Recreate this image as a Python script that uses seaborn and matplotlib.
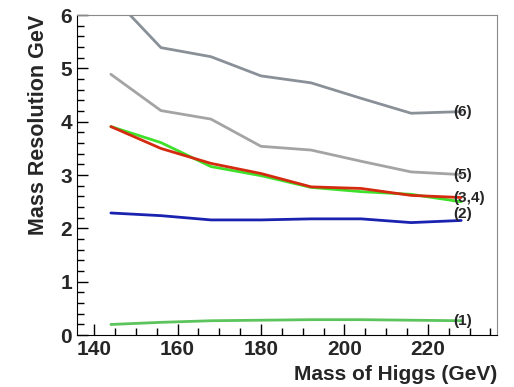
import seaborn as sns
import pandas as pd
import matplotlib.pyplot as plt
from matplotlib.ticker import MultipleLocator

# higgs mass points, 12 GeV steps
mass = [144, 156, 168, 180, 192, 204, 216, 228]

res_1 = [0.20, 0.24, 0.27, 0.28, 0.29, 0.29, 0.28, 0.27]
res_2 = [2.29, 2.24, 2.16, 2.16, 2.18, 2.18, 2.11, 2.15]
res_3 = [3.91, 3.61, 3.16, 2.99, 2.77, 2.69, 2.64, 2.50]
res_4 = [3.91, 3.50, 3.22, 3.03, 2.78, 2.75, 2.62, 2.58]
res_5 = [4.89, 4.21, 4.05, 3.54, 3.47, 3.26, 3.06, 3.01]
res_6 = [6.38, 5.39, 5.22, 4.86, 4.73, 4.44, 4.16, 4.19]

labels = ["(1)", "(2)", "(3,4)", "(5)", "(6)"]
label_y = [0.27, 2.27, 2.57, 3.01, 4.19]

series = {"1": res_1, "2": res_2, "3": res_3, "4": res_4, "5": res_5, "6": res_6}
colors = {"1": "#5cc45c", "2": "#1a22b0", "3": "#3ee02a", "4": "#d42a10",
          "5": "#a4a4a4", "6": "#8a9098"}

df = pd.DataFrame([(m, v, k) for k, vals in series.items() for m, v in zip(mass, vals)],
                  columns=["mass", "res", "curve"])

sns.set_style("white")
plt.rcParams["font.family"] = ["Liberation Sans", "DejaVu Sans"]
plt.rcParams["font.weight"] = "bold"

fig, ax = plt.subplots(figsize=(5.14, 3.87), dpi=100)
fig.subplots_adjust(left=0.15, right=0.967, top=0.961, bottom=0.134)

sns.lineplot(data=df, x="mass", y="res", hue="curve", palette=colors,
             linewidth=2, legend=False, ax=ax)

for lab, y in zip(labels, label_y):
    ax.text(226.2, y, lab, fontsize=11, fontweight="bold", va="center", ha="left")

ax.set_xlim(135.9, 236.6)
ax.set_ylim(0, 6)
ax.xaxis.set_major_locator(MultipleLocator(20))
ax.xaxis.set_minor_locator(MultipleLocator(5))
ax.yaxis.set_major_locator(MultipleLocator(1))
ax.yaxis.set_minor_locator(MultipleLocator(0.2))
ax.tick_params(which="both", direction="in", color="black", width=1,
               bottom=True, left=True, top=False, right=False, labelsize=15)
ax.tick_params(which="major", length=8)
ax.tick_params(which="minor", length=5)
for lbl in ax.get_xticklabels() + ax.get_yticklabels():
    lbl.set_fontweight("bold")

for s in ["left", "bottom"]:
    ax.spines[s].set_color("black")
for s in ["top", "right"]:
    ax.spines[s].set_color("#8a8a8a")

ax.set_xlabel("Mass of Higgs (GeV)", fontsize=15, fontweight="bold", loc="right")
ax.set_ylabel("Mass Resolution GeV", fontsize=15.5, fontweight="bold", loc="top",
              labelpad=8)

plt.savefig("out.png", dpi=100)
